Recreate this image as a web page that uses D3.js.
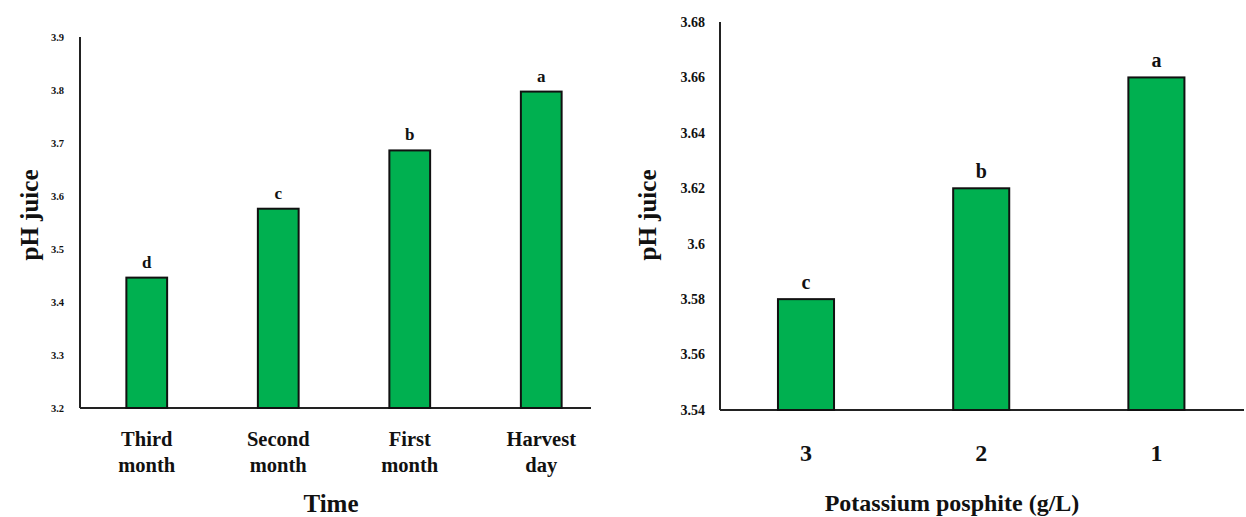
<!DOCTYPE html>
<html><head><meta charset="utf-8">
<script src="https://cdn.jsdelivr.net/npm/d3@7/dist/d3.min.js"></script>
<style>body{margin:0;background:#fff}text{font-family:"Liberation Serif","Times New Roman",serif;font-weight:bold;fill:#111}</style>
</head><body>
<svg id="c" width="1246" height="517"></svg>
<script>
// Left chart data
const timeCats = [["Third","month"],["Second","month"],["First","month"],["Harvest","day"]];
const timeVals = [3.446, 3.576, 3.686, 3.797];
const timeLetters = ["d","c","b","a"];
const timeTicks = [3.2,3.3,3.4,3.5,3.6,3.7,3.8,3.9];
// Right chart data
const kCats = ["3","2","1"];
const kVals = [3.58, 3.62, 3.66];
const kLetters = ["c","b","a"];
const kTicks = [3.54,3.56,3.58,3.6,3.62,3.64,3.66,3.68];

const svg = d3.select("#c");
const green = "#00b050";

function panel(o){
  const g = svg.append("g");
  const x = d3.scaleBand().domain(o.cats.map((d,i)=>i)).range(o.xr);
  const y = d3.scaleLinear().domain(o.yd).range(o.yr);
  g.append("line").attr("x1",o.axX).attr("x2",o.axX).attr("y1",y(o.yd[1])).attr("y2",y(o.yd[0])).attr("stroke","#222").attr("stroke-width",2);
  g.append("line").attr("x1",o.axX).attr("x2",o.axEnd).attr("y1",y(o.yd[0])).attr("y2",y(o.yd[0])).attr("stroke","#222").attr("stroke-width",2);
  g.selectAll(".yt").data(o.ticks).join("text")
    .attr("x",o.tickX).attr("y",d=>y(d)).attr("dy","0.35em").attr("text-anchor","end")
    .attr("font-size",o.tickFs).text(d=>o.fmt(d));
  const bw = x.bandwidth()*o.bwf;
  g.selectAll(".bar").data(o.vals).join("rect")
    .attr("x",(d,i)=>x(i)+x.bandwidth()/2-bw/2).attr("width",bw)
    .attr("y",d=>y(d)).attr("height",d=>y(o.yd[0])-y(d))
    .attr("fill",green).attr("stroke","#111").attr("stroke-width",2);
  g.selectAll(".lt").data(o.vals).join("text")
    .attr("x",(d,i)=>x(i)+x.bandwidth()/2).attr("y",d=>y(d)-10)
    .attr("text-anchor","middle").attr("font-size",o.letFs).text((d,i)=>o.letters[i]);
  o.cats.forEach((c,i)=>{
    const lines = Array.isArray(c)?c:[c];
    const t = g.append("text").attr("text-anchor","middle").attr("font-size",o.catFs)
      .attr("x",x(i)+x.bandwidth()/2).attr("y",o.catY);
    lines.forEach((l,j)=>t.append("tspan").attr("x",x(i)+x.bandwidth()/2).attr("dy",j?o.catLh:0).text(l));
  });
  g.append("text").attr("x",o.titleX).attr("y",o.titleY).attr("text-anchor","middle").attr("font-size",o.titleFs).text(o.title);
  g.append("text").attr("transform",`translate(${o.ylabX},${o.ylabY}) rotate(-90)`).attr("text-anchor","middle").attr("font-size",25).text("pH juice");
}

panel({cats:timeCats, vals:timeVals, letters:timeLetters, ticks:timeTicks,
  xr:[81,607], yd:[3.2,3.9], yr:[408,37], axX:80, axEnd:591, tickX:64, tickFs:10.5,
  fmt:d3.format(".1f"), bwf:0.31, letFs:17, catFs:20.5, catY:446, catLh:26,
  title:"Time", titleX:331, titleY:512, titleFs:25, ylabX:38, ylabY:215});

panel({cats:kCats, vals:kVals, letters:kLetters, ticks:kTicks,
  xr:[718.4,1244], yd:[3.54,3.68], yr:[410,22], axX:720, axEnd:1244, tickX:705, tickFs:14,
  fmt:d=>String(+d.toFixed(2)), bwf:0.32, letFs:20, catFs:24, catY:461, catLh:25,
  title:"Potassium posphite (g/L)", titleX:952, titleY:511, titleFs:24, ylabX:656, ylabY:215});
</script>
</body></html>
